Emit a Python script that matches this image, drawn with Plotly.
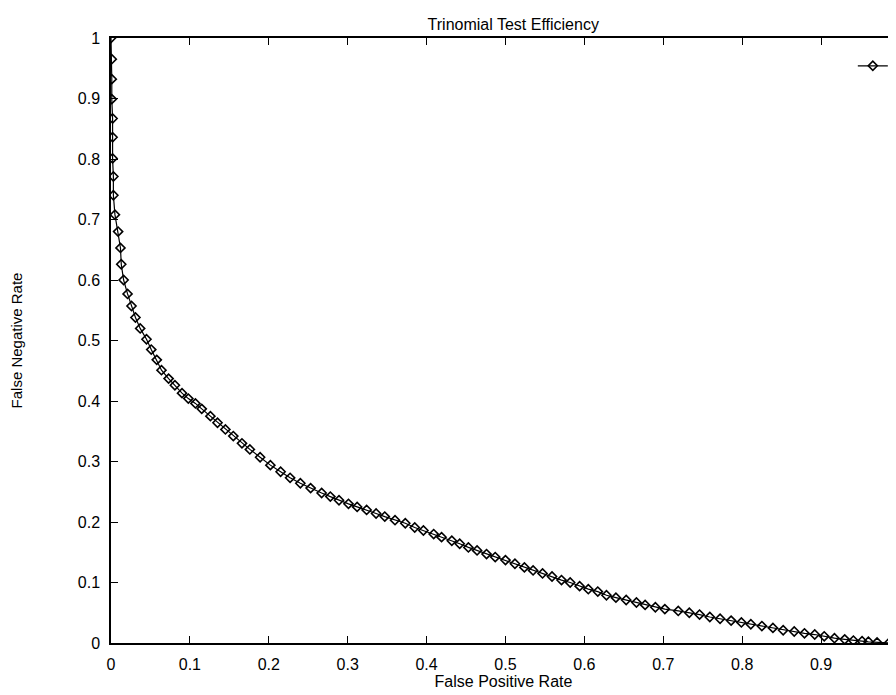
import plotly.graph_objects as go

# false positive / false negative rates
fpr = [
    0.000, 0.001, 0.001, 0.001, 0.002, 0.002, 0.002, 0.003, 0.003, 0.005,
    0.009, 0.012, 0.013, 0.016, 0.021, 0.026, 0.031, 0.037, 0.045, 0.051,
    0.058, 0.064, 0.073, 0.081, 0.090, 0.098, 0.107, 0.115, 0.126, 0.135,
    0.145, 0.155, 0.166, 0.176, 0.189, 0.202, 0.215, 0.227, 0.240, 0.253,
    0.267, 0.278, 0.289, 0.301, 0.312, 0.324, 0.336, 0.347, 0.360, 0.373,
    0.385, 0.396, 0.409, 0.419, 0.432, 0.442, 0.453, 0.464, 0.476, 0.487,
    0.500, 0.512, 0.524, 0.535, 0.547, 0.559, 0.571, 0.582, 0.594, 0.605,
    0.617, 0.628, 0.640, 0.653, 0.666, 0.677, 0.690, 0.702, 0.719, 0.733,
    0.746, 0.759, 0.772, 0.786, 0.799, 0.811, 0.825, 0.839, 0.852, 0.866,
    0.879, 0.892, 0.904, 0.917, 0.930, 0.941, 0.952, 0.960, 0.971, 0.986,
]
fnr = [
    1.000, 0.965, 0.932, 0.899, 0.867, 0.836, 0.801, 0.771, 0.740, 0.708,
    0.680, 0.653, 0.626, 0.600, 0.577, 0.557, 0.538, 0.520, 0.502, 0.485,
    0.468, 0.451, 0.437, 0.426, 0.413, 0.404, 0.396, 0.387, 0.375, 0.364,
    0.353, 0.342, 0.330, 0.320, 0.307, 0.294, 0.283, 0.273, 0.264, 0.256,
    0.248, 0.242, 0.236, 0.230, 0.225, 0.220, 0.214, 0.209, 0.203, 0.198,
    0.191, 0.186, 0.180, 0.175, 0.169, 0.164, 0.158, 0.153, 0.147, 0.142,
    0.137, 0.131, 0.125, 0.120, 0.115, 0.110, 0.104, 0.100, 0.094, 0.089,
    0.085, 0.079, 0.075, 0.071, 0.067, 0.063, 0.059, 0.056, 0.053, 0.050,
    0.047, 0.043, 0.040, 0.037, 0.034, 0.031, 0.028, 0.025, 0.021, 0.019,
    0.016, 0.014, 0.011, 0.008, 0.006, 0.004, 0.003, 0.002, 0.001, 0.000,
]

FONT = "Liberation Sans, Arial, sans-serif"

fig = go.Figure()
fig.add_trace(go.Scatter(
    x=fpr, y=fnr, mode="lines+markers", name=" ",
    line=dict(color="black", width=1.2),
    marker=dict(symbol="diamond-open", size=7, color="black",
                line=dict(color="black", width=1.6)),
    showlegend=True,
))

axis_common = dict(
    showline=True, linecolor="black", linewidth=1.5, mirror="ticks",
    ticks="inside", ticklen=7, tickwidth=1, tickcolor="black",
    showgrid=False, zeroline=False, dtick=0.1, tick0=0,
    tickfont=dict(family=FONT, size=16, color="black"),
)

fig.update_xaxes(
    range=[0, 0.995], **axis_common, ticklabelstandoff=6,
    title=dict(text="False Positive Rate", standoff=2,
               font=dict(family=FONT, size=16, color="black")),
)
fig.update_yaxes(
    range=[0, 1], **axis_common, ticklabelstandoff=6,
    title=dict(text="False Negative Rate", standoff=52,
               font=dict(family=FONT, size=15, color="black")),
)

# the page body adds 8px around the figure, so the size is trimmed to fit
fig.update_layout(
    width=888, height=687,
    margin=dict(l=103, r=0, t=30, b=52, autoexpand=False),
    paper_bgcolor="white", plot_bgcolor="white",
    font=dict(family=FONT, size=16, color="black"),
    title=dict(text="Trinomial Test Efficiency", x=0.569, xanchor="center",
               y=0.976, yanchor="middle",
               font=dict(family=FONT, size=16, color="black")),
    legend=dict(x=0.945, y=0.982, xanchor="left", yanchor="top",
                bgcolor="rgba(0,0,0,0)", borderwidth=0,
                font=dict(family=FONT, size=16)),
)

fig.write_html("out.html")
